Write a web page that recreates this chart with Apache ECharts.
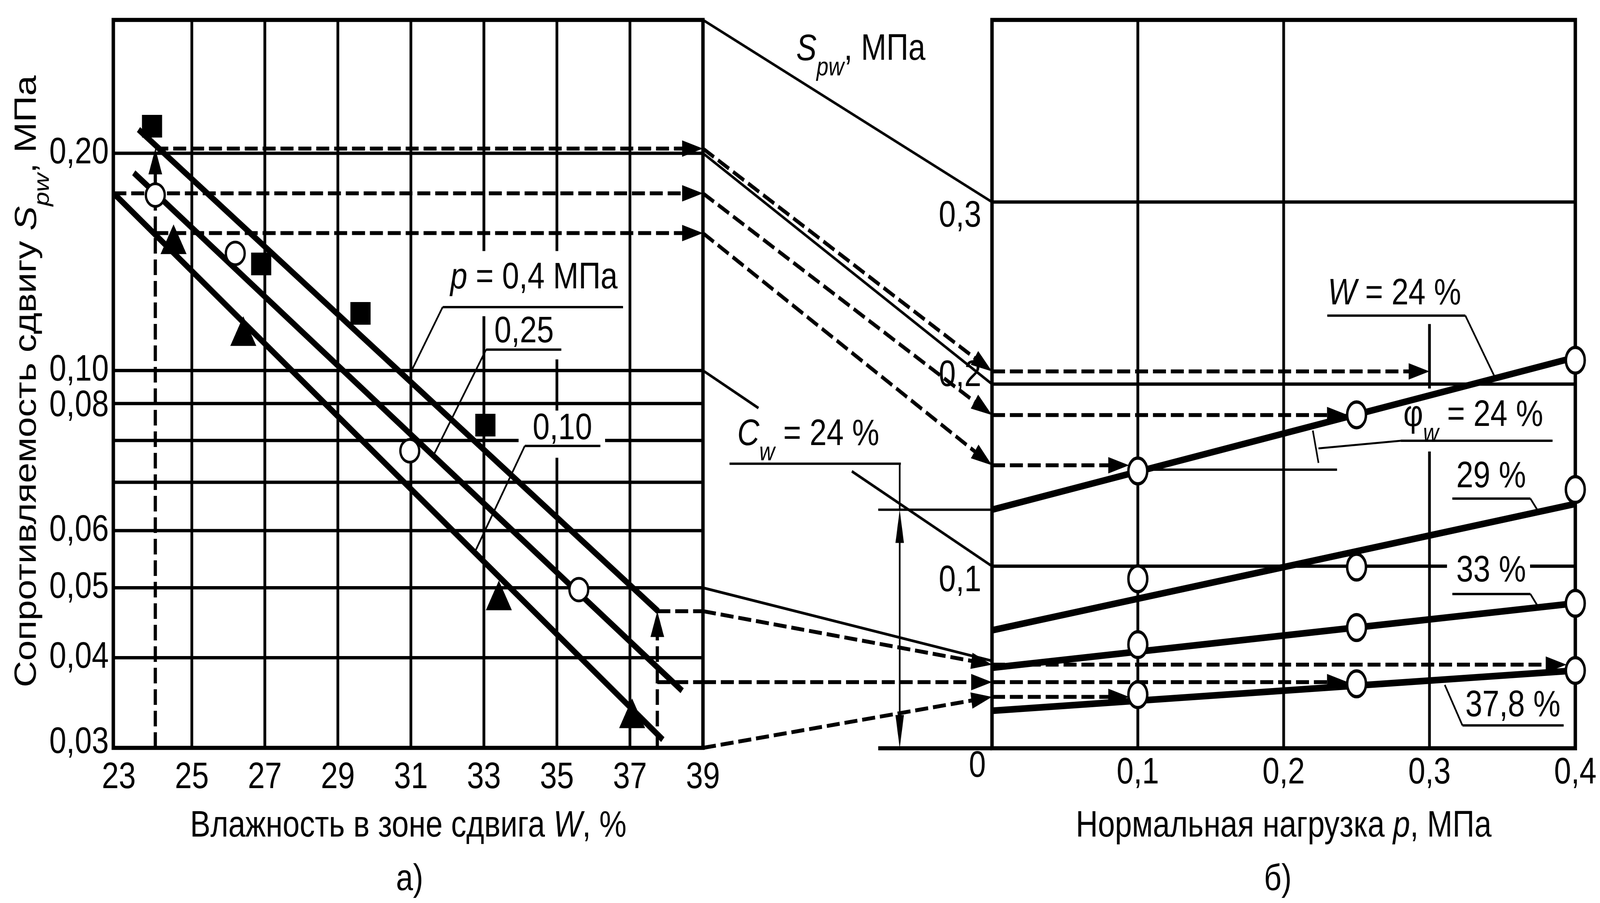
<!DOCTYPE html>
<html><head><meta charset="utf-8">
<script src="https://cdn.jsdelivr.net/npm/echarts@6/dist/echarts.min.js"></script>
<style>html,body{margin:0;padding:0;background:#fff;overflow:hidden;}#wrap{width:4921px;height:2311px;transform-origin:0 0;}#c{width:4921px;height:2311px;}</style>
</head><body><div id="wrap"><div id="c"></div></div>
<script>
// ================= DATA =================
const wTicks = [23, 25, 27, 29, 31, 33, 35, 37, 39];
const sTickValues = [0.20, 0.10, 0.09, 0.06, 0.05, 0.04, 0.03];
const sTickTexts = ['0,20', '0,10', '0,08', '0,06', '0,05', '0,04', '0,03'];
const squaresP040 = [[23.91, 0.218], [26.90, 0.1405], [29.62, 0.120], [33.04, 0.084]];
const circlesP025 = [[24.00, 0.175], [26.19, 0.1453], [30.97, 0.0774], [35.60, 0.0497]];
const trianglesP010 = [[24.50, 0.152], [26.41, 0.1134], [33.41, 0.0488], [37.06, 0.0335]];
const fitP040 = [[23.54, 0.2157], [37.77, 0.0464]];
const fitP025 = [[23.41, 0.1879], [38.43, 0.0360]];
const fitP010 = [[22.90, 0.1752], [37.90, 0.0308]];
const pTicks = [0.1, 0.2, 0.3, 0.4];
const pTickTexts = ['0,1', '0,2', '0,3', '0,4'];
const spTickValues = [0.3, 0.2, 0.1];
const spTickTexts = ['0,3', '0,2', '0,1'];
const ptsW24 = [[0.1, 0.1523], [0.25, 0.1831], [0.4, 0.2131]];
const ptsW29 = [[0.1, 0.0931], [0.25, 0.0995], [0.4, 0.1421]];
const ptsW33 = [[0.1, 0.0569], [0.25, 0.0663], [0.4, 0.0796]];
const ptsW378 = [[0.1, 0.0294], [0.25, 0.0354], [0.4, 0.0427]];
const fitW24 = [[0, 0.131], [0.4, 0.2147]];
const fitW29 = [[0, 0.0648], [0.4, 0.1342]];
const fitW33 = [[0, 0.0442], [0.4, 0.0796]];
const fitW378 = [[0, 0.0206], [0.4, 0.0427]];
const transferW24 = [{ left: 0.203, right: 0.207, startW: 24, toP: 0.3 },
                     { left: 0.176, right: 0.183, startW: null, toP: 0.244 },
                     { left: 0.155, right: 0.1554, startW: 24, toP: 0.094 }];
const transferW378 = [{ left: 0.0464, right: 0.0459, toP: 0.394 },
                      { left: 0.037, right: 0.0363, toP: 0.244 },
                      { left: 0.03, right: 0.0282, toP: 0.094 }];

// ================= AXES / STYLE =================
const wMin = 22.85, wMax = 39, sMin = 0.03, sMax = 0.306;
const pMin = 0, pMax = 0.4, vMin = 0, vMax = 0.4;
const FONT = '"Liberation Sans", Arial, Helvetica, sans-serif';
const FS = 94;
const FRAME = 10.5, GRID = 8.5, THIN = 6, DASHW = 10, FIT = 16;
const DASH = [40, 15];

// fit the 4921 x 2311 drawing into the actual viewport
{
  const kx = Math.min(1, window.innerWidth / 4921), ky = Math.min(1, window.innerHeight / 2311);
  document.getElementById('wrap').style.transform = 'scale(' + kx + ',' + ky + ')';
}

const chart = echarts.init(document.getElementById('c'), null, { renderer: 'canvas', width: 4921, height: 2311 });

function fitLine(data, gi, w) {
  return { type: 'line', xAxisIndex: gi, yAxisIndex: gi, data: data, symbol: 'none', clip: false, z: 3,
           lineStyle: { color: '#000', width: w, cap: 'butt' }, silent: true };
}
function scat(data, gi, symbol, size, filled, bw) {
  return { type: 'scatter', xAxisIndex: gi, yAxisIndex: gi, data: data, symbol: symbol, symbolSize: size, clip: false, z: 4,
           itemStyle: filled ? { color: '#000', opacity: 1 } : { color: '#fff', borderColor: '#000', borderWidth: bw, opacity: 1 }, silent: true };
}

chart.setOption({
  animation: false,
  backgroundColor: '#fff',
  grid: [
    { left: 348.5, top: 51, width: 1813.5, height: 1863, show: true, borderColor: '#000', borderWidth: FRAME, backgroundColor: 'rgba(0,0,0,0)' },
    { left: 3051, top: 51, width: 1794, height: 1864, show: true, borderColor: '#000', borderWidth: FRAME, backgroundColor: 'rgba(0,0,0,0)' }
  ],
  xAxis: [
    { type: 'value', gridIndex: 0, min: wMin, max: wMax, show: false },
    { type: 'value', gridIndex: 1, min: pMin, max: pMax, show: false }
  ],
  yAxis: [
    { type: 'log', logBase: 10, gridIndex: 0, min: sMin, max: sMax, show: false },
    { type: 'value', gridIndex: 1, min: vMin, max: vMax, show: false }
  ],
  series: [
    fitLine(fitP040, 0, FIT), fitLine(fitP025, 0, FIT), fitLine(fitP010, 0, FIT),
    scat(squaresP040, 0, 'rect', [62, 58], true),
    scat(circlesP025, 0, 'circle', 58, false, 7),
    scat(trianglesP010, 0, 'triangle', [80, 76], true),
    fitLine(fitW24, 1, FIT + 1), fitLine(fitW29, 1, FIT + 1), fitLine(fitW33, 1, FIT + 1), fitLine(fitW378, 1, FIT + 1),
    scat(ptsW24, 1, 'circle', [58, 66], false, 8),
    scat(ptsW29, 1, 'circle', [58, 66], false, 8),
    scat(ptsW33, 1, 'circle', [58, 66], false, 8),
    scat(ptsW378, 1, 'circle', [58, 66], false, 8)
  ]
});

const Lp = (x, y) => chart.convertToPixel({ gridIndex: 0 }, [x, y]);
const Rp = (x, y) => chart.convertToPixel({ gridIndex: 1 }, [x, y]);
const els = [];
function seg(a, b, w, dash, z) {
  const st = { stroke: '#000', lineWidth: w };
  if (dash) st.lineDash = dash;
  els.push({ type: 'line', z: z || 2, silent: true, shape: { x1: a[0], y1: a[1], x2: b[0], y2: b[1] }, style: st });
}
function head(from, tip, len, half) {
  const dx = tip[0] - from[0], dy = tip[1] - from[1], d = Math.hypot(dx, dy), ux = dx / d, uy = dy / d;
  const bx = tip[0] - ux * len, by = tip[1] - uy * len;
  els.push({ type: 'polygon', z: 2, silent: true, shape: { points: [[tip[0], tip[1]], [bx - uy * half, by + ux * half], [bx + uy * half, by - ux * half]] }, style: { fill: '#000' } });
  return [bx + ux * 4, by + uy * 4];
}
function arrow(from, tip, w, dash, len, half) {
  const base = head(from, tip, len || 64, half || 21);
  seg(from, base, w, dash);
}
function lerp(a, b, t) { return [a[0] + (b[0] - a[0]) * t, a[1] + (b[1] - a[1]) * t]; }

const leftV = [
  { w: 25, segs: [[sMin, sMax]] }, { w: 27, segs: [[sMin, sMax]] }, { w: 29, segs: [[sMin, sMax]] },
  { w: 31, segs: [[sMin, sMax]] }, { w: 33, segs: [[sMin, 0.1189], [0.1464, sMax]] },
  { w: 35, segs: [[sMin, 0.0757], [0.0880, 0.1036], [0.1464, sMax]] }, { w: 37, segs: [[sMin, sMax]] }
];
const leftH = [
  { s: 0.2, segs: [[wMin, wMax]] }, { s: 0.1, segs: [[wMin, wMax]] }, { s: 0.09, segs: [[wMin, wMax]] },
  { s: 0.08, segs: [[wMin, 33.95], [36.32, wMax]] }, { s: 0.07, segs: [[wMin, wMax]] },
  { s: 0.06, segs: [[wMin, wMax]] }, { s: 0.05, segs: [[wMin, wMax]] }, { s: 0.04, segs: [[wMin, wMax]] }
];
leftV.forEach(g => g.segs.forEach(s => seg(Lp(g.w, s[0]), Lp(g.w, s[1]), GRID, null, 1)));
leftH.forEach(g => g.segs.forEach(s => seg(Lp(s[0], g.s), Lp(s[1], g.s), GRID, null, 1)));
const rightV = [{ p: 0.1, segs: [[0, 0.4]] }, { p: 0.2, segs: [[0, 0.4]] }, { p: 0.3, segs: [[0, 0.163], [0.1976, 0.233]] }];
const rightH = [{ v: 0.3, segs: [[0, 0.4]] }, { v: 0.2, segs: [[0, 0.4]] }, { v: 0.1, segs: [[0, 0.312], [0.369, 0.4]] }];
rightV.forEach(g => g.segs.forEach(s => seg(Rp(g.p, s[0]), Rp(g.p, s[1]), GRID, null, 1)));
rightH.forEach(g => g.segs.forEach(s => seg(Rp(s[0], g.v), Rp(s[1], g.v), GRID, null, 1)));

seg(Lp(wMax, sMax), Rp(0, 0.3), 7);
seg(Lp(wMax, 0.2), Rp(0, 0.2), 7);
{ const a = Lp(wMax, 0.1), b = Rp(0, 0.1); seg(a, lerp(a, b, 0.192), 7); seg(lerp(a, b, 0.515), b, 7); }
seg(Lp(wMax, 0.05), Rp(0, 0.048), 7);

arrow(Lp(24, sMin), Lp(24, 0.203), DASHW, DASH, 66, 21);
transferW24.forEach(t => {
  arrow(Lp(t.startW === null ? wMin : t.startW, t.left), Lp(wMax, t.left), DASHW, DASH);
  arrow(Lp(wMax, t.left), Rp(0, t.right), DASHW, DASH);
  arrow(Rp(0, t.right), Rp(t.toP, t.right), DASHW, DASH);
});
const wEnd = 37.75;
arrow(Lp(wEnd, sMin), Lp(wEnd, transferW378[0].left), DASHW, DASH, 66, 21);
transferW378.forEach((t, i) => {
  if (i < 2) seg(Lp(wEnd, t.left), Lp(wMax, t.left), DASHW, DASH);
  arrow(Lp(wMax, t.left), Rp(0, t.right), DASHW, DASH);
  arrow(Rp(0, t.right), Rp(t.toP, t.right), DASHW, DASH);
});

seg(Rp(-0.078, 0), Rp(0, 0), FRAME);
seg(Rp(-0.078, fitW24[0][1]), Rp(0, fitW24[0][1]), THIN);
seg(Rp(-0.180, 0.1563), Rp(-0.0625, 0.1563), THIN);
seg(Rp(-0.0633, 0.1563), Rp(-0.0633, fitW24[0][1]), THIN - 1);
{ const top = Rp(-0.0633, fitW24[0][1]), bot = Rp(-0.0633, 0);
  const b1 = head(bot, top, 85, 13), b2 = head(top, bot, 85, 13); seg(b1, b2, THIN - 1); }

seg(Lp(31.87, 0.1224), Lp(36.81, 0.1224), THIN); seg(Lp(31.87, 0.1224), Lp(31.0, 0.0995), THIN - 1);
seg(Lp(33.06, 0.1069), Lp(35.12, 0.1069), THIN); seg(Lp(33.06, 0.1069), Lp(31.62, 0.0763), THIN - 1);
seg(Lp(34.12, 0.0786), Lp(36.19, 0.0786), THIN); seg(Lp(34.12, 0.0786), Lp(32.75, 0.0560), THIN - 1);
seg(Rp(0.2299, 0.2376), Rp(0.3246, 0.2376), THIN); seg(Rp(0.3246, 0.2376), Rp(0.3446, 0.2042), THIN - 1);
seg(Rp(0.1, 0.153), Rp(0.2366, 0.153), THIN);
seg(Rp(0.2200, 0.1745), Rp(0.2239, 0.1567), THIN - 1);
seg(Rp(0.2239, 0.1647), Rp(0.2803, 0.1689), THIN - 1); seg(Rp(0.2803, 0.1689), Rp(0.3844, 0.1689), THIN);
seg(Rp(0.3157, 0.1371), Rp(0.3692, 0.1371), THIN); seg(Rp(0.3692, 0.1371), Rp(0.374, 0.1309), THIN - 1);
seg(Rp(0.3157, 0.0847), Rp(0.3692, 0.0847), THIN); seg(Rp(0.3692, 0.0847), Rp(0.374, 0.0784), THIN - 1);
seg(Rp(0.3226, 0.01255), Rp(0.392, 0.01255), THIN); seg(Rp(0.3226, 0.01255), Rp(0.3105, 0.0348), THIN - 1);

const rich = {
  n: { fontSize: FS, fontFamily: FONT, lineHeight: 160, verticalAlign: 'middle' },
  i: { fontSize: FS, fontFamily: FONT, fontStyle: 'italic', lineHeight: 160, verticalAlign: 'middle' },
  s: { fontSize: 66, fontFamily: FONT, fontStyle: 'italic', lineHeight: 66, verticalAlign: 'bottom' }
};
function txt(pt, text, align, extra, fs) {
  const e = { type: 'text', z: 5, silent: true, x: pt[0], y: pt[1],
    style: { text: text, fill: '#000', fontSize: fs || FS, fontFamily: FONT, align: align || 'center', verticalAlign: 'middle', rich: rich } };
  if (extra) Object.assign(e, extra);
  els.push(e);
}
wTicks.forEach(w => { const p = Lp(w, sMin); txt([p[0], p[1] + 77], String(w)); });
const sLabelAt = [0.20, 0.10, 0.0893, 0.06, 0.05, 0.04, 0.0305];
sTickTexts.forEach((t, k) => { const p = Lp(wMin, sLabelAt[k]); txt([p[0] - 14, p[1]], t, 'right'); });
pTicks.forEach((v, k) => { const p = Rp(v, 0); txt([p[0], p[1] + 64], pTickTexts[k]); });
{ const p = Rp(0, 0); txt([p[0] - 45, p[1] + 47], '0'); }
const spLabelAt = [0.2921, 0.2045, 0.0918];
spTickTexts.forEach((t, k) => { const p = Rp(0, spLabelAt[k]); txt([p[0] - 33, p[1]], t, 'right'); });
{ const a = Lp(31, sMin), b = Rp(0.2, 0);
  txt([a[0] - 8, a[1] + 201], '{n|Влажность в зоне сдвига }{i|W}{n|, %}');
  txt([a[0] - 4, a[1] + 338], 'а)');
  txt([b[0], b[1] + 200], '{n|Нормальная нагрузка }{i|p}{n|, МПа}');
  txt([b[0] - 18, b[1] + 337], 'б)');
  const c = Lp(wMin, 0.0966);
  txt([c[0] - 264, c[1]], '{n|Сопротивляемость сдвигу }{i|S}{s|pw}{n|, МПа}', 'center', { rotation: Math.PI / 2 });
}
txt(Rp(-0.090, 0.3836), '{i|S}{s|pw}{n|, МПа}');
txt(Lp(34.37, 0.1342), '{i|p}{n| = 0,4 МПа}');
txt(Lp(34.10, 0.1130), '0,25');
txt(Lp(35.15, 0.0830), '0,10');
txt(Rp(0.276, 0.2494), '{i|W}{n| = 24 %}');
txt(Rp(0.330, 0.1825), '{n|φ}{s|w}{n| = 24 %}');
txt(Rp(0.3423, 0.149), '29 %');
txt(Rp(0.3423, 0.0971), '33 %');
txt(Rp(0.3572, 0.0232), '37,8 %');
txt(Rp(-0.126, 0.1721), '{i|C}{s|w}{n| = 24 %}');

chart.setOption({ graphic: { elements: els } });
</script>
</body></html>
